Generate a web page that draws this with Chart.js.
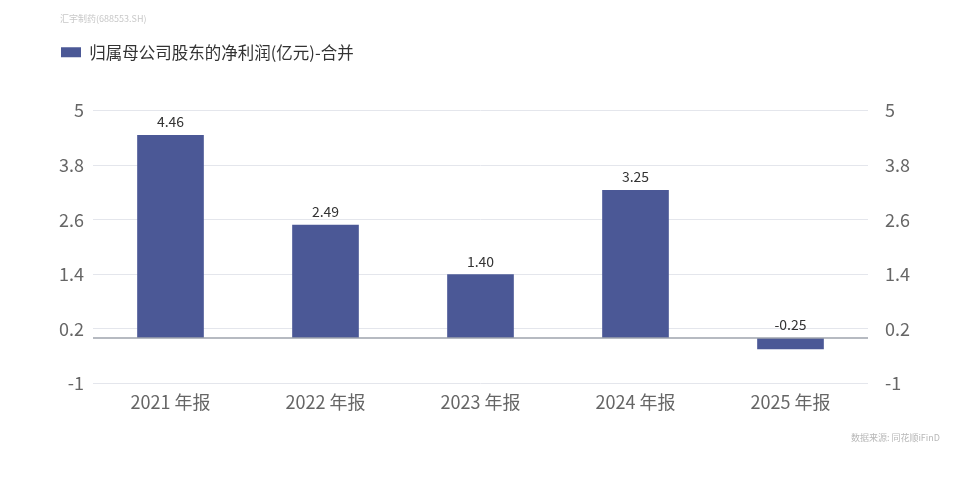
<!DOCTYPE html>
<html>
<head>
<meta charset="utf-8">
<script src="https://cdn.jsdelivr.net/npm/chart.js@4/dist/chart.umd.min.js"></script>
<style>
  html, body { margin: 0; padding: 0; background: #fff; }
  #wrap { position: relative; width: 960px; height: 487px; }
  #stock { position: absolute; left: 60px; top: 12px; font: 9px "Noto Sans CJK SC", sans-serif; color: #c8c8c8; }
  #source { position: absolute; right: 20px; top: 431px; font: 9px "Noto Sans CJK SC", sans-serif; color: #b8b8b8; }
</style>
</head>
<body>
<div id="wrap">
  <canvas id="profitChart" width="960" height="487"></canvas>
  <div id="stock">汇宇制药(688553.SH)</div>
  <div id="source">数据来源: 同花顺iFinD</div>
</div>
<script>
// data
var categories = ['2021 年报', '2022 年报', '2023 年报', '2024 年报', '2025 年报'];
var netProfit = [4.46, 2.49, 1.40, 3.25, -0.25];
var yTicks = [-1, 0.2, 1.4, 2.6, 3.8, 5];
var seriesName = '归属母公司股东的净利润(亿元)-合并';

var barColor = '#4b5896';
var fontFamily = '"Noto Sans CJK SC", "Noto Sans", sans-serif';

// push the plot down below the legend
var legendMargin = {
  id: 'legendMargin',
  beforeInit: function(chart) {
    var fit = chart.legend.fit;
    chart.legend.fit = function() {
      fit.bind(chart.legend)();
      this.height += 40;
    };
  }
};

// zero line + value labels
var extras = {
  id: 'extras',
  afterDatasetsDraw: function(chart) {
    var ctx = chart.ctx;
    var y = chart.scales.y;
    var area = chart.chartArea;
    var y0 = y.getPixelForValue(0);
    ctx.save();
    ctx.strokeStyle = '#9ea3ad';
    ctx.lineWidth = 1.5;
    ctx.beginPath();
    ctx.moveTo(area.left, y0);
    ctx.lineTo(area.right, y0);
    ctx.stroke();

    ctx.fillStyle = '#333';
    ctx.font = '14px ' + fontFamily;
    ctx.textAlign = 'center';
    ctx.textBaseline = 'bottom';
    chart.getDatasetMeta(0).data.forEach(function(bar, i) {
      var top = Math.min(bar.y, y0);
      ctx.fillText(netProfit[i].toFixed(2), bar.x, top - 6);
    });
    ctx.restore();
  }
};

function setTicks(scale) {
  scale.ticks = yTicks.map(function(v) { return { value: v }; });
}

var ctx = document.getElementById('profitChart').getContext('2d');
var profitChart = new Chart(ctx, {
  type: 'bar',
  data: {
    labels: categories,
    datasets: [{
      label: seriesName,
      data: netProfit,
      backgroundColor: barColor,
      borderWidth: 0,
      barPercentage: 0.43,
      categoryPercentage: 1
    }]
  },
  options: {
    responsive: false,
    animation: false,
    layout: { padding: { left: 51, right: 0, top: 34, bottom: 74 } },
    plugins: {
      legend: {
        position: 'top',
        align: 'start',
        labels: {
          boxWidth: 20,
          boxHeight: 10,
          color: '#333',
          font: { size: 16.5, family: fontFamily }
        }
      },
      tooltip: { enabled: false }
    },
    scales: {
      x: {
        grid: { display: false },
        border: { display: false },
        ticks: { color: '#666', font: { size: 18, family: fontFamily }, padding: 0 }
      },
      y: {
        position: 'left',
        min: -1,
        max: 5,
        afterBuildTicks: setTicks,
        afterFit: function(scale) { scale.width = 42; },
        grid: { color: '#e4e6ec', drawTicks: false },
        border: { display: false },
        ticks: {
          color: '#666',
          padding: 9,
          font: { size: 18, family: fontFamily },
          callback: function(v) { return String(Math.round(v * 10) / 10); }
        }
      },
      y2: {
        position: 'right',
        min: -1,
        max: 5,
        afterBuildTicks: setTicks,
        afterFit: function(scale) { scale.width = 92; },
        grid: { display: false },
        border: { display: false },
        ticks: {
          color: '#666',
          padding: 9,
          font: { size: 18, family: fontFamily },
          callback: function(v) { return String(Math.round(v * 10) / 10); }
        }
      }
    }
  },
  plugins: [legendMargin, extras]
});
</script>
</body>
</html>
